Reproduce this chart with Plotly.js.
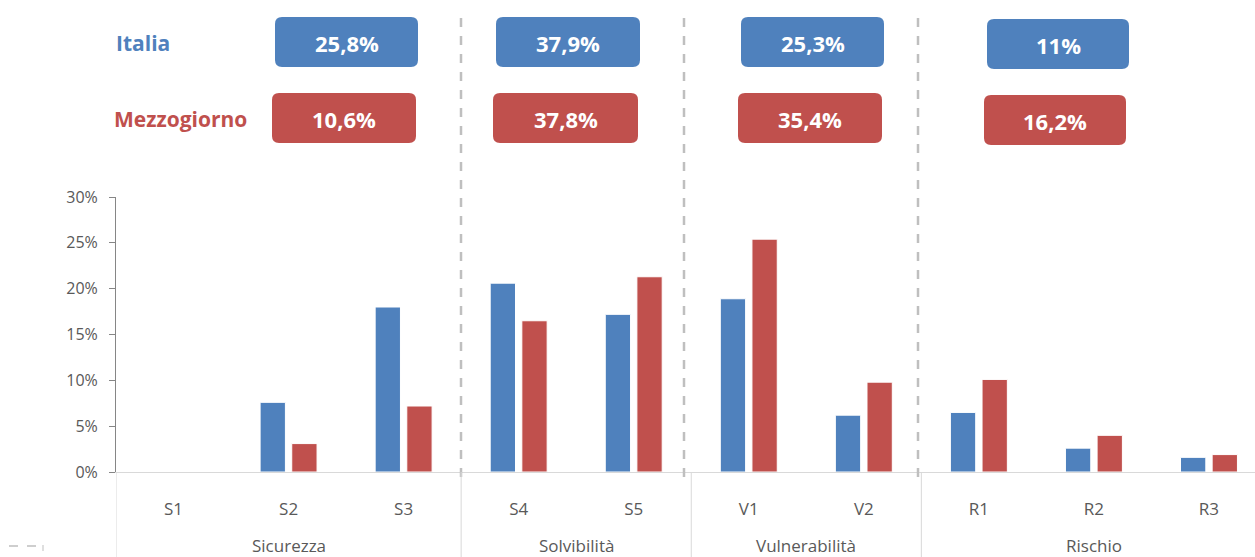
<!DOCTYPE html>
<html>
<head>
<meta charset="utf-8">
<script src="https://cdn.plot.ly/plotly-3.0.1.min.js"></script>
<style>
  html, body { margin: 0; padding: 0; background: #fff; }
  #chart { width: 1255px; height: 557px; }
</style>
</head>
<body>
<div id="chart"></div>
<script>
// categories
const groups = ['Sicurezza', 'Sicurezza', 'Sicurezza', 'Solvibilità', 'Solvibilità',
                'Vulnerabilità', 'Vulnerabilità', 'Rischio', 'Rischio', 'Rischio'];
const indicators = ['S1', 'S2', 'S3', 'S4', 'S5', 'V1', 'V2', 'R1', 'R2', 'R3'];

// series values (share, 0-1)
const italia = [0, 0.076, 0.180, 0.206, 0.172, 0.189, 0.062, 0.065, 0.026, 0.016];
const mezzogiorno = [0, 0.031, 0.072, 0.165, 0.213, 0.254, 0.098, 0.101, 0.040, 0.019];

// totals per group, shown in the boxes
const italiaTot = ['25,8%', '37,9%', '25,3%', '11%'];
const mezzTot = ['10,6%', '37,8%', '35,4%', '16,2%'];

const BLUE = '#4F81BD';
const RED = '#C0504D';
const FONT = 'Open Sans, sans-serif';
const GREY = '#595959';

// plot area in pixels
const L = 116, R = 1255, T = 197, B = 472;
const px2x = px => (px - L) / (R - L);
const px2y = py => (B - py) / (B - T);

// box geometry [x0, x1, y0, y1] in pixels
const boxItalia = [[275, 418, 17, 67], [496, 640, 17, 67], [741, 884, 17, 67], [987, 1129, 19, 69]];
const boxMezz = [[272, 416, 93, 143], [493, 638, 93, 143], [738, 882, 93, 143], [984, 1126, 95, 145]];

function roundRect(b, r) {
    const x0 = px2x(b[0]), x1 = px2x(b[1]);
    const y0 = px2y(b[3]), y1 = px2y(b[2]);
    const rx = r / (R - L), ry = r / (B - T);
    return 'M ' + (x0 + rx) + ',' + y0 +
        ' L ' + (x1 - rx) + ',' + y0 +
        ' Q ' + x1 + ',' + y0 + ' ' + x1 + ',' + (y0 + ry) +
        ' L ' + x1 + ',' + (y1 - ry) +
        ' Q ' + x1 + ',' + y1 + ' ' + (x1 - rx) + ',' + y1 +
        ' L ' + (x0 + rx) + ',' + y1 +
        ' Q ' + x0 + ',' + y1 + ' ' + x0 + ',' + (y1 - ry) +
        ' L ' + x0 + ',' + (y0 + ry) +
        ' Q ' + x0 + ',' + y0 + ' ' + (x0 + rx) + ',' + y0 + ' Z';
}

const shapes = [];
const annotations = [];

function addBoxes(boxes, labels, color) {
    boxes.forEach((b, i) => {
        shapes.push({
            type: 'path', xref: 'paper', yref: 'paper',
            path: roundRect(b, 7),
            fillcolor: color, line: { width: 0 }, layer: 'above'
        });
        annotations.push({
            xref: 'paper', yref: 'paper',
            x: px2x((b[0] + b[1]) / 2), y: px2y((b[2] + b[3]) / 2 + 1),
            xanchor: 'center', yanchor: 'middle',
            text: '<b>' + labels[i] + '</b>', showarrow: false,
            font: { family: FONT, size: 22, color: '#ffffff' }
        });
    });
}
addBoxes(boxItalia, italiaTot, BLUE);
addBoxes(boxMezz, mezzTot, RED);

annotations.push({
    xref: 'paper', yref: 'paper', x: px2x(114), y: px2y(43),
    xanchor: 'left', yanchor: 'middle',
    text: '<b>Italia</b>', showarrow: false,
    font: { family: FONT, size: 21, color: BLUE }
});
annotations.push({
    xref: 'paper', yref: 'paper', x: px2x(112), y: px2y(119),
    xanchor: 'left', yanchor: 'middle',
    text: '<b>Mezzogiorno</b>', showarrow: false,
    font: { family: FONT, size: 21, color: RED }
});

// dashed separators between groups
[461, 684, 918].forEach(p => {
    shapes.push({
        type: 'line', xref: 'paper', yref: 'paper',
        x0: px2x(p), x1: px2x(p), y0: px2y(477), y1: px2y(12),
        line: { color: '#BFBFBF', width: 2.5, dash: 'dash' }
    });
});

// group labels and dividers under the axis, from the groups array
const groupNames = [...new Set(groups)];
groupNames.forEach(g => {
    const idx = groups.map((v, i) => v === g ? i : -1).filter(i => i >= 0);
    const first = idx[0], last = idx[idx.length - 1];
    annotations.push({
        xref: 'x', yref: 'paper', x: (first + last) / 2, y: px2y(545),
        xanchor: 'center', yanchor: 'middle',
        text: g, showarrow: false,
        font: { family: FONT, size: 17, color: GREY }
    });
    shapes.push({
        type: 'line', xref: 'x', yref: 'paper',
        x0: first - 0.5, x1: first - 0.5, y0: 0, y1: px2y(560),
        line: { color: '#D9D9D9', width: 1 }
    });
});

// small leftover dashed mark bottom-left
shapes.push({
    type: 'line', xref: 'paper', yref: 'paper',
    x0: px2x(9), x1: px2x(38), y0: px2y(546), y1: px2y(546),
    line: { color: '#BFBFBF', width: 1.5, dash: 'dash' }
});
shapes.push({
    type: 'line', xref: 'paper', yref: 'paper',
    x0: px2x(43), x1: px2x(43), y0: px2y(545), y1: px2y(551),
    line: { color: '#BFBFBF', width: 1 }
});

const traces = [
    {
        x: indicators, y: italia, type: 'bar', name: 'Italia',
        marker: { color: BLUE, line: { color: '#ffffff', width: 1 } }
    },
    {
        x: indicators, y: mezzogiorno, type: 'bar', name: 'Mezzogiorno',
        marker: { color: RED, line: { color: '#ffffff', width: 1 } }
    }
];

const layout = {
    width: 1255,
    height: 557,
    margin: { l: L, r: 1255 - R, t: T, b: 557 - B },
    paper_bgcolor: '#ffffff',
    plot_bgcolor: '#ffffff',
    showlegend: false,
    barmode: 'group',
    bargap: 0.45,
    bargroupgap: 0.2,
    font: { family: FONT, color: GREY },
    xaxis: {
        type: 'category',
        range: [-0.5, 9.4],
        showline: true,
        linecolor: '#D9D9D9',
        linewidth: 1,
        ticks: '',
        showgrid: false,
        ticklabelstandoff: 22,
        tickfont: { family: FONT, size: 17, color: GREY }
    },
    yaxis: {
        range: [0, 0.30],
        tickvals: [0, 0.05, 0.10, 0.15, 0.20, 0.25, 0.30],
        tickformat: '.0%',
        showline: true,
        linecolor: '#868686',
        linewidth: 1,
        ticks: 'outside',
        ticklen: 6,
        tickcolor: '#868686',
        showgrid: false,
        zeroline: false,
        ticklabelstandoff: 8,
        tickfont: { family: FONT, size: 16, color: GREY }
    },
    shapes: shapes,
    annotations: annotations
};

Plotly.newPlot('chart', traces, layout, { displayModeBar: false, staticPlot: true });
</script>
</body>
</html>
